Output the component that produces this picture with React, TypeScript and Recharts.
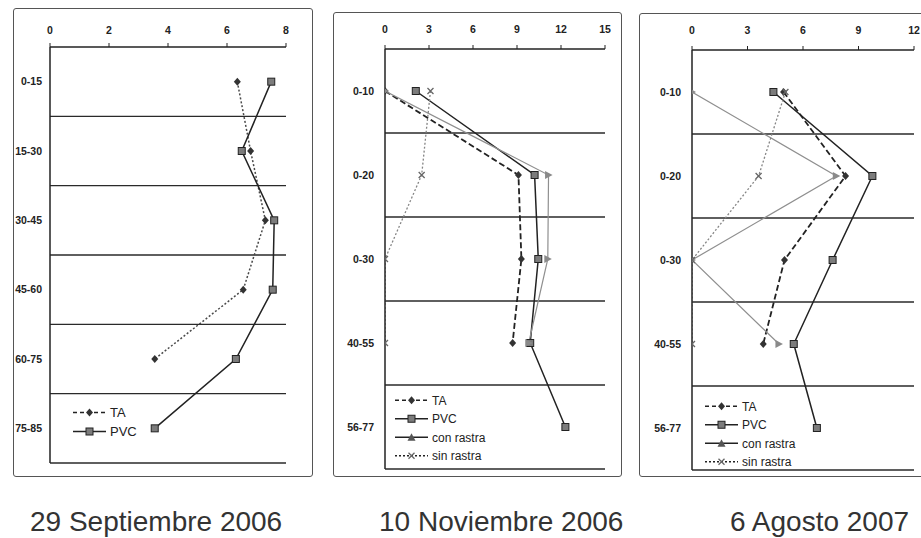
import React from 'react';
import { LineChart, Line, XAxis, YAxis, ReferenceLine, Legend } from 'recharts';

// ---------- data ----------
const depths1 = ['0-15', '15-30', '30-45', '45-60', '60-75', '75-85'];
const ta1 = [6.35, 6.8, 7.3, 6.55, 3.55, null];
const pvc1 = [7.5, 6.5, 7.6, 7.55, 6.3, 3.55];
const xTicks1 = [0, 2, 4, 6, 8];

const depths2 = ['0-10', '0-20', '0-30', '40-55', '56-77'];
const ta2 = [0, 9.1, 9.3, 8.7, null];
const pvc2 = [2.1, 10.2, 10.45, 9.9, 12.3];
const con2 = [0, 11.15, 11.1, 9.8, null];
const sin2 = [3.1, 2.5, 0, 0, null];
const xTicks2 = [0, 3, 6, 9, 12, 15];

const depths3 = ['0-10', '0-20', '0-30', '40-55', '56-77'];
const ta3 = [4.95, 8.3, 5.0, 3.85, null];
const pvc3 = [4.4, 9.75, 7.6, 5.5, 6.75];
const con3 = [0, 7.8, 0, 4.7, null];
const sin3 = [5.05, 3.6, 0, 0, null];
const xTicks3 = [0, 3, 6, 9, 12];

const titles = ['29 Septiembre 2006', '10 Noviembre 2006', '6 Agosto 2007'];
const seriesNames = ['TA', 'PVC', 'con rastra', 'sin rastra'];

// ---------- styles ----------
type Kind = 'diamond' | 'square' | 'tri' | 'x';
interface SStyle { stroke: string; dash?: string; width: number; kind: Kind; legendDash?: string }

const TA_DOTTED: SStyle = { stroke: '#4a4a4a', dash: '2 2', width: 1.5, kind: 'diamond', legendDash: '4 3' };
const TA_DASHED: SStyle = { stroke: '#222', dash: '6 3', width: 1.8, kind: 'diamond', legendDash: '4 3' };
const PVC: SStyle = { stroke: '#222', width: 1.5, kind: 'square' };
const CON: SStyle = { stroke: '#8f8f8f', width: 1.2, kind: 'tri' };
const SIN: SStyle = { stroke: '#858585', dash: '2 2', width: 1.3, kind: 'x', legendDash: '2 2' };

const Marker = ({ kind, cx, cy, legend }: { kind: Kind; cx: number; cy: number; legend?: boolean }) => {
  switch (kind) {
    case 'diamond':
      return <path d={`M${cx},${cy - 4}L${cx + 3.5},${cy}L${cx},${cy + 4}L${cx - 3.5},${cy}Z`} fill="#333" />;
    case 'square':
      return <rect x={cx - 3.5} y={cy - 3.5} width={7} height={7} fill="#7c7c7c" stroke="#222" strokeWidth={1} />;
    case 'tri':
      return legend ? (
        <path d={`M${cx - 4},${cy + 3.5}L${cx},${cy - 4}L${cx + 4},${cy + 3.5}Z`} fill="#555" />
      ) : (
        <path d={`M${cx - 3.5},${cy - 4}L${cx + 4},${cy}L${cx - 3.5},${cy + 4}Z`} fill="#8a8a8a" />
      );
    case 'x':
      return (
        <path
          d={`M${cx - 3},${cy - 3}L${cx + 3},${cy + 3}M${cx + 3},${cy - 3}L${cx - 3},${cy + 3}`}
          stroke="#666"
          strokeWidth={1.3}
        />
      );
  }
  return null;
};

interface Series { key: string; name: string; values: (number | null)[]; style: SStyle }

interface PanelProps {
  cats: string[];
  series: Series[];
  xTicks: number[];
  box: { left: number; top: number; width: number; height: number };
  chart: { left: number; top: number; width: number; height: number };
  margin: { top: number; right: number; bottom: number; left: number };
  yWidth: number;
  xTickMargin: number;
  yTickMargin: number;
  legendPos: { left: number; top: number };
  legendFont: number;
  legendRow: number;
}

const LegendBox = ({ series, fontSize, rowH }: { series: Series[]; fontSize: number; rowH: number }) => (
  <svg width={120} height={series.length * rowH} style={{ display: 'block' }}>
    {series.map((s, i) => {
      const cy = i * rowH + rowH / 2;
      return (
        <g key={s.key}>
          <line x1={0} x2={33} y1={cy} y2={cy} stroke="#222" strokeWidth={1.3}
            strokeDasharray={s.style.legendDash} />
          <Marker kind={s.style.kind} cx={16.5} cy={cy} legend />
          <text x={37} y={cy} dy="0.36em" fontSize={fontSize} fill="#222"
            fontFamily="'Liberation Sans', Arial, sans-serif">{s.name}</text>
        </g>
      );
    })}
  </svg>
);

const Panel = (p: PanelProps) => {
  const n = p.cats.length;
  const rows = p.cats.map((c, i) => {
    const r: Record<string, any> = { pos: i + 0.5, cat: c };
    p.series.forEach((s) => { r[s.key] = s.values[i]; });
    return r;
  });
  const yTicks = p.cats.map((_, i) => i + 0.5);
  const bounds = p.cats.map((_, i) => i + 1);
  const xMax = p.xTicks[p.xTicks.length - 1];
  const tickFont = { fontSize: 10.5, fontWeight: 700, fill: '#222', fontFamily: "'Liberation Sans', Arial, sans-serif" };
  return (
    <>
      <div style={{
        position: 'absolute', left: p.box.left, top: p.box.top, width: p.box.width, height: p.box.height,
        border: '1.5px solid #555', borderRadius: 3, boxSizing: 'border-box',
      }} />
      <div style={{ position: 'absolute', left: p.chart.left, top: p.chart.top }}>
        <LineChart layout="vertical" width={p.chart.width} height={p.chart.height} data={rows} margin={p.margin}>
          <XAxis type="number" orientation="top" domain={[0, xMax]} ticks={p.xTicks} height={25}
            axisLine={{ stroke: '#222', strokeWidth: 1.5 }} tickLine={{ stroke: '#222' }}
            tickSize={4} tickMargin={p.xTickMargin} tick={tickFont} allowDataOverflow />
          <YAxis type="number" dataKey="pos" domain={[0, n]} ticks={yTicks} width={p.yWidth}
            tickFormatter={(v: number) => p.cats[Math.floor(v)]} interval={0}
            axisLine={{ stroke: '#222', strokeWidth: 1.5 }} tickLine={false}
            tickSize={0} tickMargin={p.yTickMargin} tick={tickFont} />
          {bounds.map((b) => (
            <ReferenceLine key={b} y={b} stroke="#2a2a2a" strokeWidth={1.3} />
          ))}
          {p.series.map((s) => (
            <Line key={s.key} dataKey={s.key} name={s.name} type="linear" isAnimationActive={false}
              stroke={s.style.stroke} strokeWidth={s.style.width} strokeDasharray={s.style.dash}
              activeDot={false}
              dot={(d: any) => {
                const ok = typeof d.cx === 'number' && typeof d.cy === 'number' && !isNaN(d.cx) && !isNaN(d.cy)
                  && d.payload && d.payload[s.key] != null;
                return ok ? (
                  <g key={`${s.key}-${d.index}`}><Marker kind={s.style.kind} cx={d.cx} cy={d.cy} /></g>
                ) : (
                  <g key={`${s.key}-${d.index}`} />
                );
              }} />
          ))}
          <Legend layout="vertical" align="center" verticalAlign="middle"
            wrapperStyle={{ left: p.legendPos.left, top: p.legendPos.top, width: 120, height: 'auto' }}
            content={() => <LegendBox series={p.series} fontSize={p.legendFont} rowH={p.legendRow} />} />
        </LineChart>
      </div>
    </>
  );
};

const titleStyle: React.CSSProperties = {
  position: 'absolute', top: 508, fontSize: 28, lineHeight: '28px', color: '#333',
  fontFamily: "'Liberation Sans', Arial, sans-serif", whiteSpace: 'nowrap',
};

export default function App() {
  const s1: Series[] = [
    { key: 'ta', name: seriesNames[0], values: ta1, style: TA_DOTTED },
    { key: 'pvc', name: seriesNames[1], values: pvc1, style: PVC },
  ];
  const s2: Series[] = [
    { key: 'ta', name: seriesNames[0], values: ta2, style: TA_DASHED },
    { key: 'pvc', name: seriesNames[1], values: pvc2, style: PVC },
    { key: 'con', name: seriesNames[2], values: con2, style: CON },
    { key: 'sin', name: seriesNames[3], values: sin2, style: SIN },
  ];
  const s3: Series[] = [
    { key: 'ta', name: seriesNames[0], values: ta3, style: TA_DASHED },
    { key: 'pvc', name: seriesNames[1], values: pvc3, style: PVC },
    { key: 'con', name: seriesNames[2], values: con3, style: CON },
    { key: 'sin', name: seriesNames[3], values: sin3, style: SIN },
  ];
  return (
    <div style={{ position: 'absolute', left: 0, top: 0, width: 921, height: 538, overflow: 'hidden', background: '#fff' }}>
      <Panel cats={depths1} series={s1} xTicks={xTicks1}
        box={{ left: 13, top: 8, width: 300, height: 469 }}
        chart={{ left: 13, top: 8, width: 300, height: 468 }}
        margin={{ top: 14, right: 27, bottom: 13, left: 0 }}
        yWidth={37} xTickMargin={9} yTickMargin={8}
        legendPos={{ left: 60, top: 395 }} legendFont={13} legendRow={19} />
      <Panel cats={depths2} series={s2} xTicks={xTicks2}
        box={{ left: 333, top: 12, width: 289, height: 465 }}
        chart={{ left: 333, top: 12, width: 289, height: 464 }}
        margin={{ top: 12, right: 17, bottom: 7, left: 0 }}
        yWidth={52} xTickMargin={12} yTickMargin={11}
        legendPos={{ left: 62, top: 379 }} legendFont={12} legendRow={18.5} />
      <Panel cats={depths3} series={s3} xTicks={xTicks3}
        box={{ left: 639, top: 13, width: 295, height: 464 }}
        chart={{ left: 639, top: 13, width: 282, height: 463 }}
        margin={{ top: 12, right: 7, bottom: 6, left: 0 }}
        yWidth={53} xTickMargin={12} yTickMargin={11}
        legendPos={{ left: 66, top: 384 }} legendFont={12} legendRow={18.5} />
      <div style={{ ...titleStyle, left: 30 }}>{titles[0]}</div>
      <div style={{ ...titleStyle, left: 379 }}>{titles[1]}</div>
      <div style={{ ...titleStyle, left: 730 }}>{titles[2]}</div>
    </div>
  );
}
